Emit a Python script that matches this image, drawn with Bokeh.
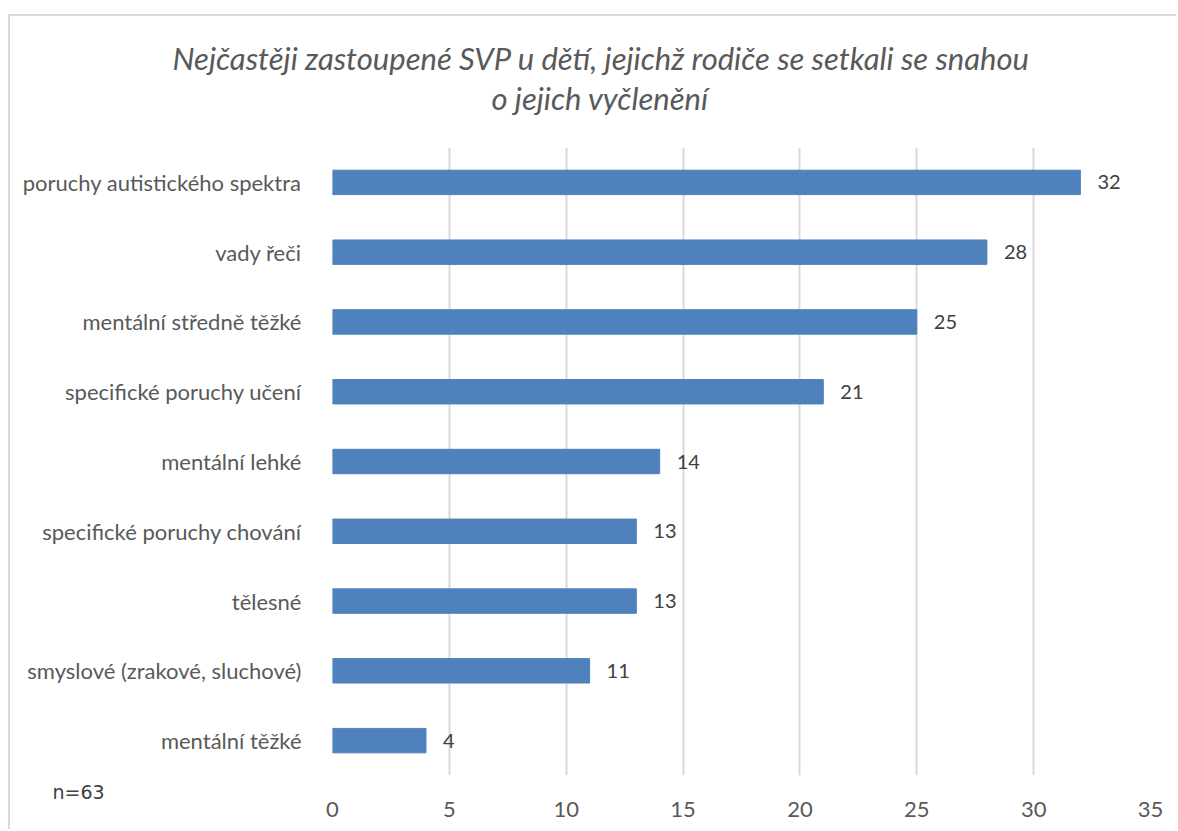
from bokeh.plotting import figure
from bokeh.models import ColumnDataSource, FactorRange, Range1d, Title, LabelSet, FixedTicker
from bokeh.core.properties import value
from bokeh.embed import file_html
from bokeh.resources import INLINE

categories = [
    "poruchy autistického spektra",
    "vady řeči",
    "mentální středně těžké",
    "specifické poruchy učení",
    "mentální lehké",
    "specifické poruchy chování",
    "tělesné",
    "smyslové (zrakové, sluchové)",
    "mentální těžké",
]
values = [32, 28, 25, 21, 14, 13, 13, 11, 4]
x_ticks = [0, 5, 10, 15, 20, 25, 30, 35]
title_line1 = "Nejčastěji zastoupené SVP u dětí, jejichž rodiče se setkali se snahou"
title_line2 = "o jejich vyčlenění"
note = "n=63"

FONT = "Lato"
BAR = "#4F81BD"
TXT = "#595959"

src = ColumnDataSource(dict(cat=categories, val=values, lab=[str(v) for v in values]))

p = figure(
    width=1168, height=815,
    y_range=FactorRange(factors=list(reversed(categories))),
    x_range=Range1d(0, 35),
    output_backend="svg", toolbar_location=None, title=None,
    min_border_left=322, min_border_right=28, min_border_top=131, min_border_bottom=56,
)
p.styles = {
    "border-left": "2px solid #d9d9d9",
    "border-top": "2px solid #d9d9d9",
    "margin-left": "8px",
    "margin-top": "14px",
}
p.outline_line_color = None

p.hbar(y="cat", right="val", left=0, height=0.35, source=src, color=BAR)

labels = LabelSet(x="val", y="cat", text="lab", source=src, x_offset=17,
                  text_baseline="middle", text_align="left",
                  text_font=value(FONT), text_font_size="20px", text_color="#404040")
p.add_layout(labels)

# invisible spacer between the plot and the two title lines
spacer = Title(text=" ", align="left", text_font=FONT, text_font_size="24px",
               text_color="white", standoff=0)
t2 = Title(text=title_line2, align="left", offset=159, text_font=FONT, text_font_size="31px",
           text_font_style="italic", text_color=TXT, standoff=0)
t1 = Title(text=title_line1, align="left", offset=-160, text_font=FONT, text_font_size="31px",
           text_font_style="italic", text_color=TXT, standoff=0)
p.add_layout(spacer, "above")
p.add_layout(t2, "above")
p.add_layout(t1, "above")

p.xaxis.ticker = FixedTicker(ticks=x_ticks)
p.xaxis.axis_line_color = None
p.xaxis.major_tick_line_color = None
p.xaxis.minor_tick_line_color = None
p.xaxis.major_label_standoff = -10
p.xaxis.major_label_text_font = FONT
p.xaxis.major_label_text_font_size = "22px"
p.xaxis.major_label_text_color = TXT

p.yaxis.axis_line_color = None
p.yaxis.major_tick_line_color = None
p.yaxis.minor_tick_line_color = None
p.yaxis.major_label_standoff = 25
p.yaxis.major_label_text_font = FONT
p.yaxis.major_label_text_font_size = "22px"
p.yaxis.major_label_text_color = TXT

p.xgrid.grid_line_color = "#d9d9d9"
p.xgrid.grid_line_width = 2
p.ygrid.grid_line_color = None

note_title = Title(text=note, align="left", offset=-280, text_font="DejaVu Sans",
                   text_font_size="19px", text_font_style="normal", text_color="#404040",
                   standoff=6)
xaxis = p.below[0]
p.below = [note_title, xaxis]

open("out.html", "w").write(file_html(p, INLINE))
